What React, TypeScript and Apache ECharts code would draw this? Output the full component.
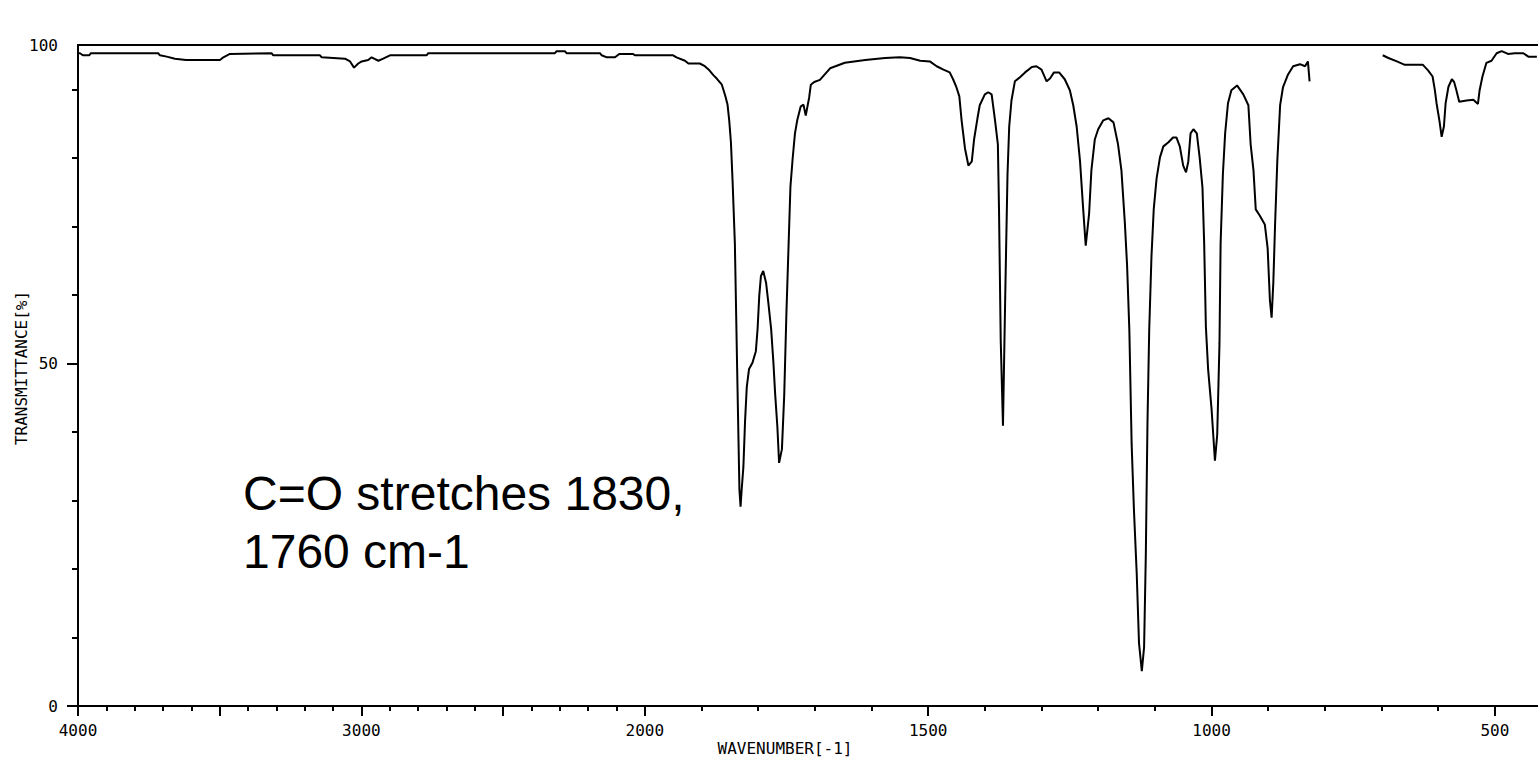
import React, { useEffect, useRef } from "react";
import * as echarts from "echarts";

// IR spectrum (wavenumber in cm-1, transmittance in %)
// null transmittance = region not recorded (gap in the trace)
const wavenumber = [
  4000, 3993, 3983, 3960, 3955, 3717, 3711, 3687, 3658, 3619, 3499, 3487, 3464, 3317, 3311, 3146,
  3140, 3058, 3040, 3026, 3011, 2999, 2976, 2964, 2940, 2923, 2899, 2770, 2764, 2317, 2311, 2282,
  2276, 2158, 2152, 2134, 2105, 2090, 2041, 2035, 1950, 1944, 1929, 1923, 1903, 1894, 1886, 1879,
  1873, 1864, 1858, 1854, 1851, 1848, 1845, 1841, 1837, 1833, 1831, 1829, 1826, 1823, 1820, 1816,
  1810, 1804, 1801, 1798, 1795, 1791, 1786, 1782, 1777, 1773, 1770, 1766, 1763, 1758, 1754, 1750,
  1746, 1743, 1739, 1735, 1731, 1725, 1720, 1716, 1713, 1710, 1707, 1701, 1691, 1673, 1647, 1611,
  1576, 1550, 1532, 1514, 1497, 1485, 1473, 1462, 1456, 1450, 1445, 1441, 1435, 1429, 1423, 1419,
  1413, 1409, 1400, 1394, 1388, 1382, 1377, 1375, 1372, 1368, 1364, 1360, 1357, 1353, 1347, 1338,
  1329, 1317, 1309, 1300, 1291, 1285, 1278, 1269, 1259, 1250, 1244, 1238, 1232, 1227, 1222, 1216,
  1212, 1206, 1200, 1191, 1182, 1173, 1165, 1159, 1153, 1149, 1145, 1141, 1137, 1132, 1128, 1123,
  1119, 1116, 1113, 1110, 1106, 1102, 1097, 1091, 1085, 1076, 1068, 1062, 1056, 1050, 1045, 1041,
  1037, 1032, 1026, 1021, 1016, 1013, 1010, 1006, 1000, 994, 990, 986, 984, 980, 976, 971,
  965, 955, 944, 935, 931, 926, 922, 915, 906, 901, 897, 894, 891, 888, 884, 879,
  874, 865, 856, 844, 835, 830, 827, 760, 698, 688, 673, 659, 627, 618, 610, 606,
  603, 598, 594, 590, 587, 582, 576, 572, 568, 563, 550, 538, 530, 527, 522, 515,
  506, 497, 488, 477, 465, 450, 441, 426,
];

const transmittance = [
  95.3, 95.3, 95.0, 95.0, 95.3, 95.3, 95.0, 94.8, 94.5, 94.3, 94.3, 94.7, 95.2, 95.3, 95.0, 95.0,
  94.7, 94.5, 94.1, 93.2, 93.8, 94.1, 94.3, 94.7, 94.2, 94.5, 95.0, 95.0, 95.3, 95.3, 95.6, 95.6,
  95.3, 95.3, 95.0, 94.7, 94.7, 95.2, 95.2, 95.0, 95.0, 94.7, 94.2, 93.8, 93.8, 93.4, 92.8, 92.1,
  91.6, 90.7, 89.1, 87.8, 85.5, 82.3, 76.5, 67.4, 49.2, 31.6, 29.1, 31.6, 34.9, 41.7, 46.6, 49.2,
  50.1, 51.8, 55.0, 59.9, 62.8, 63.5, 61.8, 58.9, 55.0, 50.1, 45.6, 40.7, 35.5, 37.5, 45.3, 57.6,
  68.0, 75.8, 80.0, 83.6, 85.5, 87.5, 87.8, 86.2, 87.5, 88.8, 90.7, 91.1, 91.4, 93.1, 93.9, 94.3,
  94.6, 94.7, 94.6, 94.2, 94.1, 93.4, 92.9, 92.5, 91.5, 90.3, 89.0, 85.5, 81.4, 78.9, 79.5, 82.7,
  85.8, 87.7, 89.3, 89.6, 89.3, 85.5, 82.0, 72.6, 53.5, 40.9, 59.9, 77.6, 84.6, 88.4, 91.2, 91.8,
  92.5, 93.3, 93.4, 92.9, 91.2, 91.6, 92.5, 92.5, 91.5, 89.9, 87.7, 84.6, 79.5, 73.2, 67.2, 71.9,
  78.2, 82.7, 84.2, 85.5, 85.8, 85.2, 82.0, 78.2, 70.6, 64.3, 54.8, 38.3, 28.8, 19.3, 9.2, 5.1,
  8.6, 21.9, 41.5, 54.8, 65.6, 72.5, 77.0, 80.1, 81.7, 82.3, 83.0, 83.0, 81.7, 78.9, 77.9, 79.5,
  83.6, 84.2, 83.6, 80.1, 75.7, 67.5, 55.4, 49.1, 43.4, 35.8, 39.6, 52.9, 67.5, 77.6, 83.6, 88.0,
  89.9, 90.6, 89.3, 87.7, 82.0, 78.2, 72.5, 71.6, 70.3, 66.8, 59.2, 56.7, 61.8, 70.0, 79.5, 87.7,
  90.3, 92.2, 93.4, 93.7, 93.4, 94.1, 91.2, null, 95.0, 94.6, 94.1, 93.6, 93.6, 92.8, 91.9, 89.9,
  88.0, 85.5, 83.1, 84.6, 88.0, 90.4, 91.5, 91.1, 89.9, 88.2, 88.4, 88.5, 87.9, 89.9, 91.9, 93.9,
  94.2, 95.3, 95.6, 95.2, 95.3, 95.3, 94.8, 94.8,
];

const xTickLabels = [4000, 3000, 2000, 1500, 1000, 500];
const xMajorTicks = [4000, 3500, 3000, 2500, 2000, 1500, 1000, 500];
const xMinorStep = 100;
const yTickLabels = [0, 50, 100];
const yMajorTicks = [0, 50];
const yMinorTicks = [10, 20, 30, 40, 60, 70, 80, 90];
const xTitle = "WAVENUMBER[-1]";
const yTitle = "TRANSMITTANCE[%]";
const annotationLines = ["C=O stretches 1830,", "1760 cm-1"];

// The plotted scale is compressed 2x above 2000 cm-1 (as on the instrument chart)
const toAxis = (w: number) => (w > 2000 ? 2000 + (w - 2000) / 2 : w);
const fromAxis = (u: number) => (u > 2000 ? 2000 + (u - 2000) * 2 : u);

const X_LEFT = 4000;
const X_RIGHT = 424;
const Y_TOP = 96.5; // top frame of the plot, labelled "100" on the original
const FONT = "DejaVu Sans Mono";

export default function App() {
  const ref = useRef<HTMLDivElement>(null);

  useEffect(() => {
    document.body.style.margin = "0";
    if (!ref.current) return;
    const chart = echarts.init(ref.current, undefined, { renderer: "svg" });

    const data = wavenumber.map((w, i) => [toAxis(w), transmittance[i]]);
    const minor: number[] = [];
    for (let w = X_LEFT; w >= X_RIGHT; w -= xMinorStep) {
      if (!xMajorTicks.includes(w)) minor.push(toAxis(w));
    }

    const baseX = {
      type: "value" as const,
      min: toAxis(X_RIGHT),
      max: toAxis(X_LEFT),
      inverse: true,
      splitLine: { show: false },
      axisLine: { show: true, onZero: false, lineStyle: { color: "#000", width: 2 } },
    };
    const baseY = {
      type: "value" as const,
      min: 0,
      max: Y_TOP,
      position: "left" as const,
      splitLine: { show: false },
      axisLine: { show: true, onZero: false, lineStyle: { color: "#000", width: 2 } },
    };

    chart.setOption({
      animation: false,
      backgroundColor: "#fff",
      grid: { left: 78, right: 0, top: 45, bottom: 51, containLabel: false },
      xAxis: [
        {
          ...baseX,
          position: "bottom",
          axisTick: {
            show: true,
            length: 10,
            lineStyle: { color: "#000", width: 2 },
            customValues: xMajorTicks.map(toAxis),
          },
          axisLabel: {
            show: true,
            color: "#000",
            fontFamily: FONT,
            fontSize: 16,
            margin: 16,
            customValues: xTickLabels.map(toAxis),
            formatter: (v: number) => String(Math.round(fromAxis(v))),
          },
        },
        {
          ...baseX,
          position: "bottom",
          axisTick: {
            show: true,
            length: 5,
            lineStyle: { color: "#000", width: 2 },
            customValues: minor,
          },
          axisLabel: { show: false },
        },
        {
          ...baseX,
          position: "top",
          axisTick: { show: false },
          axisLabel: { show: false },
        },
      ],
      yAxis: [
        {
          ...baseY,
          axisTick: {
            show: true,
            length: 11,
            lineStyle: { color: "#000", width: 2 },
            customValues: yMajorTicks,
          },
          axisLabel: {
            show: true,
            color: "#000",
            fontFamily: FONT,
            fontSize: 16,
            margin: 20,
            customValues: [yTickLabels[0], yTickLabels[1], Y_TOP],
            formatter: (v: number) => (v >= Y_TOP - 0.01 ? String(yTickLabels[2]) : String(v)),
          },
        },
        {
          ...baseY,
          axisTick: {
            show: true,
            length: 6,
            lineStyle: { color: "#000", width: 2 },
            customValues: yMinorTicks,
          },
          axisLabel: { show: false },
        },
      ],
      series: [
        {
          type: "line",
          xAxisIndex: 0,
          yAxisIndex: 0,
          data,
          showSymbol: false,
          connectNulls: false,
          lineStyle: { color: "#000", width: 2 },
          silent: true,
        },
      ],
      graphic: [
        {
          type: "text",
          x: 785,
          y: 748,
          style: {
            text: xTitle,
            fill: "#000",
            font: `16px "${FONT}"`,
            align: "center",
            verticalAlign: "middle",
          },
        },
        {
          type: "text",
          x: 21,
          y: 368,
          rotation: Math.PI / 2,
          style: {
            text: yTitle,
            fill: "#000",
            font: `16px "${FONT}"`,
            align: "center",
            verticalAlign: "middle",
          },
        },
        {
          type: "text",
          x: 243,
          y: 464,
          style: {
            text: annotationLines.join("\n"),
            fill: "#000",
            font: `48px "Liberation Sans", Arial, sans-serif`,
            lineHeight: 58,
            align: "left",
            verticalAlign: "top",
          },
        },
      ],
    });

    return () => chart.dispose();
  }, []);

  return <div ref={ref} style={{ width: 1538, height: 757 }} />;
}
